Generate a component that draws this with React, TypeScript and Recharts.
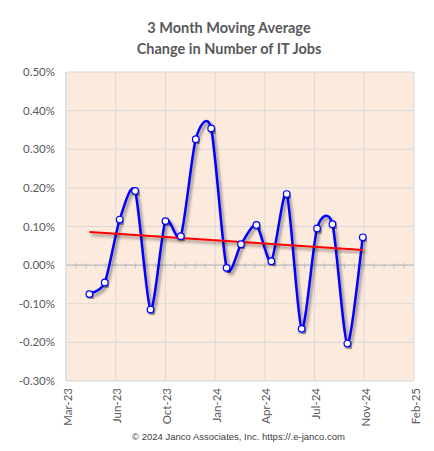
import React from "react"
import { LineChart, Line, XAxis, YAxis, CartesianGrid, ReferenceLine } from "recharts"

const months = [
  "2023-05-01", "2023-06-01", "2023-07-01", "2023-08-01", "2023-09-01", "2023-10-01",
  "2023-11-01", "2023-12-01", "2024-01-01", "2024-02-01", "2024-03-01", "2024-04-01",
  "2024-05-01", "2024-06-01", "2024-07-01", "2024-08-01", "2024-09-01", "2024-10-01",
  "2024-11-01",
]

// 3 month moving average, % change
const avgChange = [
  -0.075, -0.045, 0.118, 0.192, -0.115, 0.114,
  0.075, 0.326, 0.354, -0.007, 0.054, 0.104,
  0.01, 0.184, -0.165, 0.095, 0.106, -0.203,
  0.072,
]

// linear trend, read at first and last month
const trendMonths = ["2023-05-01", "2024-11-01"]
const trendValues = [0.086, 0.039]

const xTickLabels = ["Mar-23", "Jun-23", "Oct-23", "Jan-24", "Apr-24", "Jul-24", "Nov-24", "Feb-25"]
const yTicks = [-0.3, -0.2, -0.1, 0, 0.1, 0.2, 0.3, 0.4, 0.5]

const toDay = (s: string) => Date.parse(s) / 86400000

// date axis: starts 15 Mar 2023, major unit 100 days, minor 20 days
const AXIS_START = toDay("2023-03-15")
const MAJOR = 100
const MINOR = 20
const xTicks = xTickLabels.map((_, i) => AXIS_START + i * MAJOR)
const AXIS_END = xTicks[xTicks.length - 1]

const data = months.map((m, i) => ({ date: toDay(m), value: avgChange[i] }))
const trendData = trendMonths.map((m, i) => ({ date: toDay(m), trend: trendValues[i] }))

const FONT = "Lato, 'Open Sans', sans-serif"
const TEXT = "#595959"

// excel-like smoothing (cardinal bezier)
const K = 0.125
function excelSmooth(context: any) {
  let pts: number[][] = []
  return {
    areaStart() {},
    areaEnd() {},
    lineStart() {
      pts = []
    },
    point(x: number, y: number) {
      pts.push([+x, +y])
    },
    lineEnd() {
      if (!pts.length) return
      context.moveTo(pts[0][0], pts[0][1])
      for (let i = 0; i < pts.length - 1; i++) {
        const p0 = pts[i - 1] || pts[i]
        const p1 = pts[i]
        const p2 = pts[i + 1]
        const p3 = pts[i + 2] || pts[i + 1]
        context.bezierCurveTo(
          p1[0] + (p2[0] - p0[0]) * K,
          p1[1] + (p2[1] - p0[1]) * K,
          p2[0] - (p3[0] - p1[0]) * K,
          p2[1] - (p3[1] - p1[1]) * K,
          p2[0],
          p2[1]
        )
      }
    },
  }
}

function ZeroAxis(props: any) {
  const { x1, y1, x2 } = props
  const n = (AXIS_END - AXIS_START) / MINOR
  const step = (x2 - x1) / n
  const marks = []
  for (let i = 1; i < n; i++) {
    const x = x1 + i * step
    marks.push(<line key={i} x1={x} x2={x} y1={y1 - 2} y2={y1 + 3} stroke="#BFBFBF" strokeWidth={1} />)
  }
  return (
    <g>
      <line x1={x1} x2={x2} y1={y1} y2={y1} stroke="#BFBFBF" strokeWidth={1.2} />
      {marks}
    </g>
  )
}

function DateTick(props: any) {
  const { x, payload, index } = props
  return (
    <text
      transform={`translate(${x + 1},388) rotate(-90)`}
      textAnchor="end"
      dominantBaseline="central"
      fontSize={11.5}
      fontFamily={FONT}
      fill={TEXT}
    >
      {xTickLabels[index] ?? payload.value}
    </text>
  )
}

export default function App() {
  return (
    <div style={{ position: "absolute", left: 0, top: 0, width: 434, height: 451, background: "#fff" }}>
      <div
        style={{
          position: "absolute",
          left: 0,
          width: 458,
          top: 17,
          textAlign: "center",
          fontFamily: FONT,
          fontWeight: 700,
          fontSize: 14.5,
          lineHeight: "21px",
          color: TEXT,
        }}
      >
        <div>3 Month Moving Average</div>
        <div>Change in Number of IT Jobs</div>
      </div>
      <LineChart width={434} height={451} data={data} margin={{ top: 72, right: 20, bottom: 0, left: 8 }}>
        <defs>
          <filter id="shadow" x="-10%" y="-10%" width="120%" height="130%">
            <feDropShadow dx="2" dy="2.5" stdDeviation="1.5" floodColor="#000" floodOpacity="0.45" />
          </filter>
        </defs>
        <CartesianGrid stroke="#D9D9D9" fill="#FCEADC" />
        <XAxis
          dataKey="date"
          type="number"
          domain={[AXIS_START, AXIS_END]}
          ticks={xTicks}
          interval={0}
          height={70}
          axisLine={false}
          tickLine={false}
          tick={<DateTick />}
          allowDataOverflow
        />
        <YAxis
          type="number"
          domain={[-0.3, 0.5]}
          ticks={yTicks}
          interval={0}
          width={58}
          axisLine={{ stroke: "#D9D9D9" }}
          tickLine={false}
          tickMargin={5}
          tickFormatter={(v: number) => `${v.toFixed(2)}%`}
          tick={{ fontSize: 11.5, fontFamily: FONT, fill: TEXT }}
        />
        <ReferenceLine y={0} shape={ZeroAxis} />
        <Line
          dataKey="value"
          type={excelSmooth as any}
          stroke="#0000FF"
          strokeWidth={2.5}
          filter="url(#shadow)"
          dot={{ r: 3.3, fill: "#fff", stroke: "#0000FF", strokeWidth: 1.2 }}
          activeDot={false}
          isAnimationActive={false}
        />
        <Line
          data={trendData}
          dataKey="trend"
          type="linear"
          stroke="#FF0000"
          strokeWidth={2}
          filter="url(#shadow)"
          dot={false}
          activeDot={false}
          isAnimationActive={false}
        />
      </LineChart>
      <div
        style={{
          position: "absolute",
          left: 0,
          width: 477,
          top: 431,
          textAlign: "center",
          fontFamily: "'Liberation Sans', Arial, sans-serif",
          fontSize: 9.5,
          color: "#404040",
        }}
      >
        © 2024 Janco Associates, Inc. https://.e-janco.com
      </div>
    </div>
  )
}
